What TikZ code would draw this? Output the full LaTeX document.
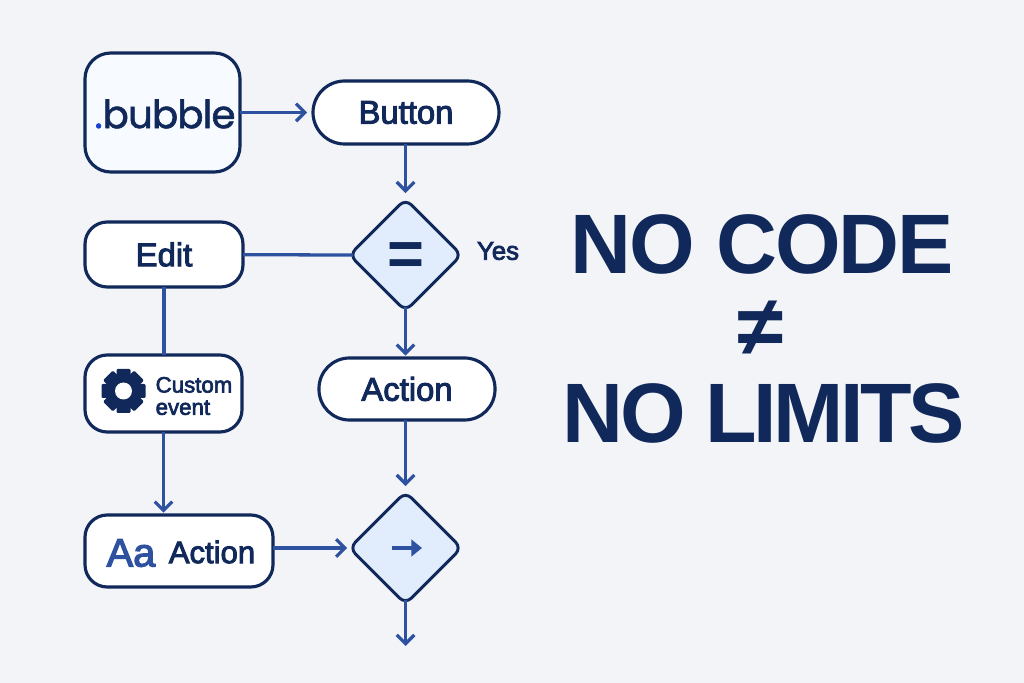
\documentclass[tikz,border=0pt]{standalone}
\usepackage{fontspec}
\setmainfont[FakeBold=3]{Liberation Sans}
\newfontfamily\heavyfont{Liberation Sans}
\newfontfamily\logofont[FakeBold=1.5,LetterSpace=-2]{Poppins}
\usetikzlibrary{positioning,shapes.geometric,arrows.meta}
\definecolor{pagebg}{HTML}{F2F4F8}
\definecolor{navy}{HTML}{10285A}
\definecolor{linkblue}{HTML}{2F52A0}
\definecolor{pale}{HTML}{E1ECFC}
\definecolor{logobg}{HTML}{F7FAFE}
\definecolor{dotblue}{HTML}{1A3FD0}
\newcommand{\sized}[1]{\fontsize{#1}{#1}\selectfont}
\begin{document}
\begin{tikzpicture}[x=.03cm,y=-.03cm,
    every node/.style={inner sep=0pt,outer sep=0pt,text=navy},
    box/.style={draw=navy,line width=2.7pt,fill=white,rounded corners=19pt,font=\sized{28}},
    choice/.style={diamond,aspect=1,draw=navy,line width=2.5pt,fill=pale,rounded corners=7pt,minimum size=3.36cm},
    flow/.style={draw=linkblue,line width=2.8pt,-{Straight Barb[length=7.5pt,width=15pt,line width=2.8pt]}},
    plain/.style={draw=linkblue,line width=2.8pt},
    headline/.style={font=\heavyfont\bfseries\sized{72}}]
  \useasboundingbox[fill=pagebg] (0,0) rectangle (1024,683);

  % left column
  \node[box,fill=logobg,rounded corners=22pt,minimum width=4.65cm,minimum height=3.57cm] (logobox) at (162.5,112.5) {};
  \node[font=\logofont\sized{33}] (logo) at (165,114) {\textcolor{dotblue}{.}bubble};
  \node[box,minimum width=4.74cm,minimum height=1.95cm] (edit) at (164,254.5) {Edit};
  \node[box,minimum width=4.71cm,minimum height=2.31cm] (custom) at (163.5,393.5) {};
  \node[align=left,font=\sized{19}] (customtext) at (194,396) {Custom\\event};
  \coordinate (gear) at (123.5,391);
  \fill[navy] (gear) circle (17);
  \foreach \a in {0,45,...,315}
    \fill[navy,rotate around={\a:(gear)},rounded corners=1pt] (116.5,391) rectangle (130.5,369);
  \fill[white] (gear) circle (8.5);
  \node[box,minimum width=5.64cm,minimum height=2.16cm] (aabox) at (179,551) {};
  \node[font=\sized{34},text=linkblue] (aa) at (131,553) {Aa};
  \node[font=\sized{26.5}] (aaaction) at (212,552) {Action};

  % right column
  \node[box,rounded corners=27pt,minimum width=5.58cm,minimum height=1.89cm] (button) at (406,112.5) {Button};
  \node[choice] (same) at (405.5,255) {};
  \node[font=\heavyfont\bfseries\sized{54}] (equal) at (406,259) {=};
  \node[font=\sized{22}] (yes) at (498,251) {Yes};
  \node[box,rounded corners=26pt,minimum width=5.28cm,minimum height=1.86cm] (action) at (407,389) {Action};
  \node[choice] (next) at (405.5,548) {};
  \coordinate (nextin) at (392,548);
  \coordinate (nextout) at (422,548);
  \coordinate (down) at (405.5,646);

  \draw[flow] (logobox.east|-button)--([xshift=-5]button.west);
  \draw[flow] (button.south-|same)--([yshift=5]same.north);
  \draw[plain,shorten >=-3pt] (edit)--(same.west);
  \draw[flow,shorten <=-3pt] (same.south)--([yshift=2]action.north-|same);
  \draw[flow] (action.south-|same)--([yshift=5]next.north);
  \draw[plain] (edit.south)--(custom.north-|edit);
  \draw[flow] (custom.south)--([yshift=2]aabox.north-|custom);
  \draw[flow] (aabox.east|-next)--([xshift=-2]next.west);
  \draw[flow,shorten <=-3pt] (next.south)--(down);
  \draw[draw=linkblue,line width=2.8pt,-{Triangle[length=9pt,width=14pt]}] (nextin)--(nextout);

  % big text
  \node[headline] (nocode) at (762,244) {\addfontfeature{LetterSpace=-2.3}NO CODE};
  \node[headline] (neq) at (760.5,328) {≠};
  \node[headline] (nolimits) at (763.5,413) {\addfontfeature{LetterSpace=-4.2}NO LIMITS};
\end{tikzpicture}
\end{document}
